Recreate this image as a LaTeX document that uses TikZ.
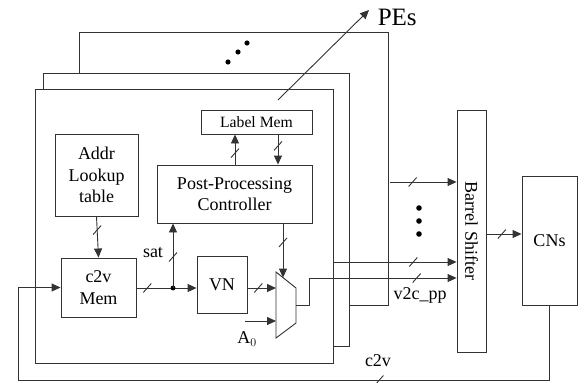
\documentclass[tikz,border=0pt]{standalone}
\usepackage{fontspec}
\setmainfont{Liberation Serif}
\usepackage{tikz}
\usetikzlibrary{arrows.meta}
\usetikzlibrary{positioning}

\tikzset{
  blk/.style={draw, fill=white, align=center, inner sep=1pt},
  frame/.style={draw, fill=white},
  slash/.pic={\draw[-] (-4pt,-4.5pt) -- (4pt,4.5pt);},
}

\begin{document}
\begin{tikzpicture}[x=1pt, y=-1pt, line width=.9pt, draw=black!80,
    >={Triangle[length=9pt, width=8pt]},
    font=\fontsize{18}{21.5}\selectfont]
     \useasboundingbox (0,0) rectangle (587,383);

     % stacked PE frames
     \draw[frame] (79,32) rectangle (388,305);
     \draw[frame] (43,73) rectangle (349,346);
     \draw[frame] (35,89) rectangle (333,363);
     \fill (228,62) circle (2.6pt) (238,52) circle (2.6pt) (247,43) circle (2.6pt);

     % blocks
     \node[blk, minimum width=111, minimum height=24, font=\fontsize{15.7}{18}\selectfont] (labelmem) at (256.5,122) {Label Mem};
     \node[blk, minimum width=83, minimum height=82] (addr) at (96.5,175) {Addr\\Lookup\\table};
     \node[blk, minimum width=155, minimum height=58] (ppc) at (234.5,194) {Post-Processing\\Controller};
     \node[blk, minimum width=75, minimum height=59] (c2vmem) at (98.5,287.5) {c2v\\Mem};
     \node[blk, minimum width=50, minimum height=57] (vn) at (222,284.5) {VN};
     \node[blk, minimum width=29, minimum height=242] (barrel) at (471.5,231) {};
     \node[rotate=-90] at (barrel.center) {Barrel Shifter};
     \node[blk, minimum width=55, minimum height=129] (cns) at (549.5,240.5) {CNs};

     % mux
     \draw (276,272) -- (296,288) -- (296,323) -- (276,338) -- cycle;
     \coordinate (muxa) at (276,288);
     \coordinate (muxb) at (276,321);
     \coordinate (muxs) at (283,277.6);
     \coordinate (muxo) at (296,305);

     % inside the PE
     \draw[->] (addr.south) -- (c2vmem.north) pic[pos=.33]{slash};
     \coordinate (dot) at (173,288);
     \draw[->] (c2vmem.east |- dot) -- (vn.west |- dot) pic[pos=.18]{slash};
     \fill (dot) circle (2.4pt);
     \draw[->] (dot) -- (dot |- ppc.south) pic[pos=.48]{slash};
     \node (sat) at (153,253) {sat};
     \draw[->] (vn.east |- muxa) -- (muxa) pic[pos=.38]{slash};
     \draw[->] (245,321) coordinate (a0) -- (muxb);
     \node (a0lbl) at (247,339) {A$_0$};
     \draw[->] (muxs |- ppc.south) -- (muxs) pic[pos=.35]{slash};
     \draw[->] (235,165) coordinate (up) -- (up |- labelmem.south) pic[pos=.39]{slash};
     \draw[->] (278,134) coordinate (down) -- (down |- ppc.north) pic[pos=.39]{slash};

     % to the other PEs
     \coordinate (pestail) at (278,100);
     \coordinate (peshead) at (369,10);
     \draw[->] (pestail) -- (peshead);
     \node[anchor=west, font=\fontsize{25}{28}\selectfont] (pes) at (374,17) {PEs};

     % into the barrel shifter
     \coordinate (top) at (390,182);
     \draw[->] (top) -- (top -| barrel.west) pic[pos=.34]{slash};
     \coordinate (mid) at (333,262);
     \draw[->] (mid) -- (mid -| barrel.west) pic[pos=.65]{slash};
     \coordinate (v2c) at (309,278);
     \draw[->] (muxo) -| (v2c) -- (v2c -| barrel.west) pic[pos=.73]{slash};
     \node (v2clbl) at (420,295) {v2c\_pp};
     \foreach \y in {208,221,234}
       \fill (419,\y) circle (2.8pt);

     % to the CNs and back
     \draw[->] (barrel.east |- 0,234) -- (cns.west |- 0,234) pic[pos=.44]{slash};
     \coordinate (fb) at (18,380);
     \draw[->] (cns.south) |- (fb) pic[pos=.66]{slash} -- (fb |- c2vmem.west) -- (c2vmem.west);
     \node (c2vlbl) at (378,361) {c2v};
\end{tikzpicture}
\end{document}
